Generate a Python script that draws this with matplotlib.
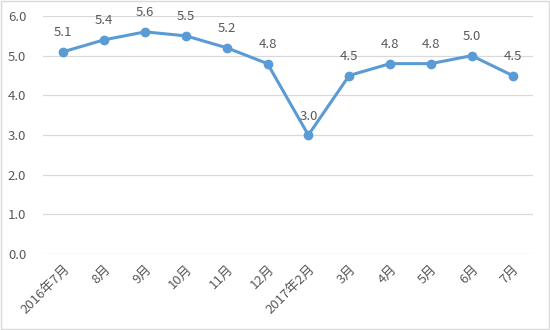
import matplotlib
matplotlib.use('Agg')
import matplotlib.pyplot as plt
from matplotlib.patches import Rectangle

plt.rcParams['font.family'] = ['Noto Sans CJK SC', 'DejaVu Sans']

months = ['2016年7月', '8月', '9月', '10月', '11月', '12月', '2017年2月',
          '3月', '4月', '5月', '6月', '7月']
values = [5.1, 5.4, 5.6, 5.5, 5.2, 4.8, 3.0, 4.5, 4.8, 4.8, 5.0, 4.5]
yticks = [0.0, 1.0, 2.0, 3.0, 4.0, 5.0, 6.0]

text_color = '#595959'
line_color = '#5B9BD5'

fig = plt.figure(figsize=(5.5, 3.3), dpi=100)
ax = fig.add_axes([0.078, 0.23, 0.891, 0.7215])

x = list(range(len(months)))
ax.plot(x, values, color=line_color, lw=2.2, marker='o', ms=6,
        markerfacecolor=line_color, markeredgecolor=line_color, zorder=3)

for xi, v in zip(x, values):
  ax.annotate('{:.1f}'.format(v), (xi, v), xytext=(0, 9), textcoords='offset points',
              ha='center', va='bottom', fontsize=9.5, color=text_color)

ax.set_xlim(-0.5, len(months) - 0.5)
ax.set_ylim(0, 6)
ax.set_yticks(yticks)
ax.set_yticklabels(['{:.1f}'.format(t) for t in yticks])
ax.set_xticks(x)
ax.set_xticklabels(months, rotation=45, ha='right', rotation_mode='anchor')

ax.grid(axis='y', color='#D9D9D9', lw=0.9)
ax.set_axisbelow(True)
for s in ax.spines.values():
  s.set_visible(False)
ax.tick_params(axis='both', length=0, colors=text_color, labelsize=9.5)
ax.tick_params(axis='y', pad=12)
ax.tick_params(axis='x', pad=6)

# outer border
fig.patches.append(Rectangle((0.002, 0.003), 0.996, 0.994, transform=fig.transFigure,
                             fill=False, edgecolor='#D9D9D9', lw=1))

fig.savefig('out.png', dpi=100)
